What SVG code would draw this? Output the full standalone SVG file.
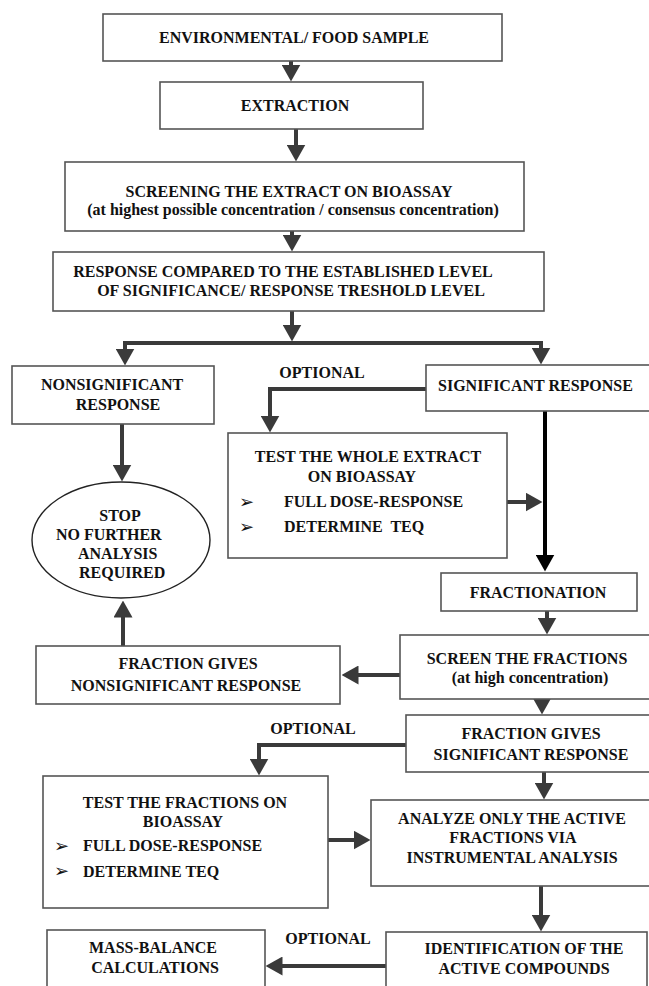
<svg xmlns="http://www.w3.org/2000/svg" width="649" height="986" viewBox="0 0 649 986">
<style>
  .box { fill: #ffffff; stroke: #555555; stroke-width: 1.6; }
  .ell { fill: #ffffff; stroke: #222222; stroke-width: 1.4; }
  .t { font-family: "Liberation Serif", "Times New Roman", serif; font-weight: bold; font-size: 16px; fill: #111111; }
  .m { text-anchor: middle; }
  .b { font-family: "DejaVu Sans", sans-serif; font-size: 18px; fill: #111111; }
  .c { fill: none; stroke: #3a3a3a; stroke-width: 4; stroke-linejoin: miter; marker-end: url(#ah); }
  .k { fill: none; stroke: #000000; stroke-width: 4; marker-end: url(#akb); }
</style>
<defs>
  <marker id="ah" viewBox="0 0 17 19" refX="0.5" refY="9.5" markerWidth="17" markerHeight="19" markerUnits="userSpaceOnUse" orient="auto">
    <path d="M0,0 L17,9.5 L0,19 z" fill="#3a3a3a"/>
  </marker>
  <marker id="akb" viewBox="0 0 17 19" refX="0.5" refY="9.5" markerWidth="17" markerHeight="19" markerUnits="userSpaceOnUse" orient="auto">
    <path d="M0,0 L17,9.5 L0,19 z" fill="#000000"/>
  </marker>
</defs>
<rect width="649" height="986" fill="#ffffff"/>

<g id="connectors">
  <path class="c" d="M291,61 V65"/>
  <path class="c" d="M296,129 V145"/>
  <path class="c" d="M292,231 V235"/>
  <path class="c" d="M292,311 V325"/>
  <path class="c" d="M292,343 H125 V349"/>
  <path class="c" d="M292,343 H541 V348"/>
  <path class="c" d="M426,389 H270 V416"/>
  <path class="k" d="M545,411 V555"/>
  <path class="c" d="M507,502 H526"/>
  <path class="c" d="M122,424 V465"/>
  <path class="c" d="M123,646 V617"/>
  <path class="c" d="M547,611 V618"/>
  <path class="c" d="M400,675 H358"/>
  <path class="c" d="M542,695 V698"/>
  <path class="c" d="M406,745 H259 V759"/>
  <path class="c" d="M544,772 V783"/>
  <path class="c" d="M328,840 H354"/>
  <path class="c" d="M541,886 V915"/>
  <path class="c" d="M386,966 H282"/>
</g>

<g id="n-sample">
  <rect class="box" x="103" y="14" width="399" height="47"/>
  <text class="t m" x="294" y="43">ENVIRONMENTAL/ FOOD SAMPLE</text>
</g>
<g id="n-extraction">
  <rect class="box" x="160" y="82" width="263" height="47"/>
  <text class="t m" x="295" y="111">EXTRACTION</text>
</g>
<g id="n-screening">
  <rect class="box" x="65" y="162" width="459" height="69"/>
  <text class="t m" x="289" y="197">SCREENING THE EXTRACT ON BIOASSAY</text>
  <text class="t m" x="293" y="215">(at highest possible concentration / consensus concentration)</text>
</g>
<g id="n-compared">
  <rect class="box" x="53" y="252" width="491" height="59"/>
  <text class="t m" x="283" y="277">RESPONSE COMPARED TO THE ESTABLISHED LEVEL</text>
  <text class="t m" x="291" y="296">OF SIGNIFICANCE/ RESPONSE TRESHOLD LEVEL</text>
</g>
<g id="n-nonsig">
  <rect class="box" x="12" y="366" width="202" height="58"/>
  <text class="t m" x="112" y="390">NONSIGNIFICANT</text>
  <text class="t m" x="118" y="410">RESPONSE</text>
</g>
<g id="l-optional1">
  <text class="t m" x="322" y="378">OPTIONAL</text>
</g>
<g id="n-sig">
  <rect class="box" x="426" y="365" width="226" height="46"/>
  <text class="t" x="438" y="391">SIGNIFICANT RESPONSE</text>
</g>
<g id="n-testwhole">
  <rect class="box" x="228" y="433" width="279" height="125"/>
  <text class="t m" x="368" y="462">TEST THE WHOLE EXTRACT</text>
  <text class="t m" x="362" y="482">ON BIOASSAY</text>
  <text class="b" x="239" y="508">➢</text>
  <text class="t" x="284" y="507">FULL DOSE-RESPONSE</text>
  <text class="b" x="239" y="533">➢</text>
  <text class="t" x="284" y="532" xml:space="preserve">DETERMINE  TEQ</text>
</g>
<g id="n-stop">
  <ellipse class="ell" cx="121" cy="540" rx="89" ry="58"/>
  <text class="t m" x="120" y="521">STOP</text>
  <text class="t" x="56" y="540">NO FURTHER</text>
  <text class="t" x="78" y="559">ANALYSIS</text>
  <text class="t" x="79" y="578">REQUIRED</text>
</g>
<g id="n-fractionation">
  <rect class="box" x="441" y="573" width="196" height="38"/>
  <text class="t m" x="538" y="598">FRACTIONATION</text>
</g>
<g id="n-screenfrac">
  <rect class="box" x="400" y="635" width="252" height="64"/>
  <text class="t m" x="527" y="664">SCREEN THE FRACTIONS</text>
  <text class="t m" x="530" y="683">(at high concentration)</text>
</g>
<g id="n-fgnonsig">
  <rect class="box" x="36" y="646" width="304" height="58"/>
  <text class="t m" x="188" y="669">FRACTION GIVES</text>
  <text class="t m" x="186" y="691">NONSIGNIFICANT RESPONSE</text>
</g>
<g id="l-optional2">
  <text class="t m" x="313" y="734">OPTIONAL</text>
</g>
<g id="n-fgsig">
  <rect class="box" x="406" y="715" width="246" height="57"/>
  <text class="t m" x="531" y="739">FRACTION GIVES</text>
  <text class="t m" x="531" y="760">SIGNIFICANT RESPONSE</text>
</g>
<g id="n-testfrac">
  <rect class="box" x="43" y="776" width="285" height="132"/>
  <text class="t m" x="185" y="808">TEST THE FRACTIONS ON</text>
  <text class="t m" x="183" y="827">BIOASSAY</text>
  <text class="b" x="54" y="852">➢</text>
  <text class="t" x="83" y="851">FULL DOSE-RESPONSE</text>
  <text class="b" x="54" y="877">➢</text>
  <text class="t" x="83" y="877">DETERMINE TEQ</text>
</g>
<g id="n-analyze">
  <rect class="box" x="371" y="800" width="281" height="86"/>
  <text class="t m" x="512" y="824">ANALYZE ONLY THE ACTIVE</text>
  <text class="t m" x="513" y="843">FRACTIONS VIA</text>
  <text class="t m" x="512" y="863">INSTRUMENTAL ANALYSIS</text>
</g>
<g id="n-ident">
  <rect class="box" x="386" y="932" width="261" height="60"/>
  <text class="t m" x="524" y="954">IDENTIFICATION OF THE</text>
  <text class="t m" x="524" y="974">ACTIVE COMPOUNDS</text>
</g>
<g id="l-optional3">
  <text class="t m" x="328" y="944">OPTIONAL</text>
</g>
<g id="n-mass">
  <rect class="box" x="47" y="930" width="218" height="62"/>
  <text class="t m" x="153" y="953">MASS-BALANCE</text>
  <text class="t m" x="155" y="973">CALCULATIONS</text>
</g>
</svg>
